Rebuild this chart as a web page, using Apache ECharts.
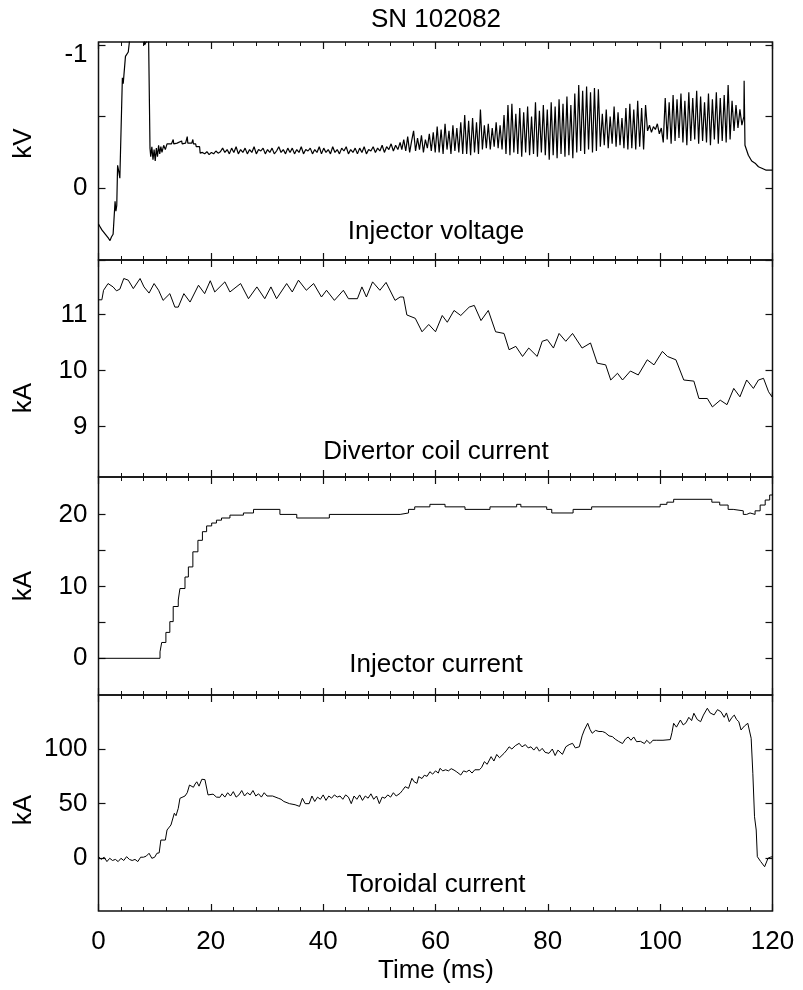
<!DOCTYPE html>
<html>
<head>
<meta charset="utf-8">
<script src="https://cdn.jsdelivr.net/npm/echarts@6/dist/echarts.min.js"></script>
<style>
html,body{margin:0;padding:0;background:#fff;}
#chart{width:803px;height:990px;}
</style>
</head>
<body>
<div id="chart"></div>
<script>
// ---------------- DATA ----------------
const chartTitle = 'SN 102082';
const xAxisTitle = 'Time (ms)';
const panelNames = ['Injector voltage', 'Divertor coil current', 'Injector current', 'Toroidal current'];
const panelUnits = ['kV', 'kA', 'kA', 'kA'];

const xTickLabels = [0, 20, 40, 60, 80, 100, 120];
const voltTickLabels = [-1, 0];
const voltTicks = [-1, -0.5, 0, 0.5];
const divTickLabels = [9, 10, 11];
const injTickLabels = [0, 10, 20];
const injTicks = [0, 5, 10, 15, 20];
const torTickLabels = [0, 50, 100];

// Injector voltage (kV), [time ms, value]
const voltEarly = [
  [0,0.25],[0.3,0.27],[0.6,0.29],[0.9,0.30],[1.2,0.32],[1.5,0.31],[1.8,0.35],[2.05,0.365],[2.3,0.34],[2.6,0.32],
  [2.8,0.33],[2.95,0.09],[3.1,0.16],[3.25,0.12],[3.4,-0.16],[3.6,-0.12],[3.8,-0.07],[4.1,-0.08],[4.25,-0.77],[4.4,-0.73],
  [4.8,-0.92],[5.3,-0.95],[5.5,-1.02],[5.6,-1.1],[8.1,-1.1],[8.2,-1.0],[8.5,-1.02],[8.9,-1.1],[9.1,-1.1],[9.17,-0.28],
  [9.3,-0.22],[9.5,-0.29],[9.7,-0.20],[9.9,-0.27],[10.1,-0.19],[10.3,-0.28],[10.5,-0.22],[10.7,-0.30],[10.9,-0.24],[11.1,-0.29],
  [11.3,-0.25],[11.6,-0.30],[11.9,-0.27],[12.2,-0.31],[12.5,-0.315],[13.0,-0.31],[13.3,-0.34],[13.4,-0.31],[14.0,-0.315],[14.8,-0.33],
  [14.9,-0.31],[15.5,-0.315],[15.8,-0.36],[15.9,-0.315],[16.6,-0.315],[16.8,-0.34],[16.9,-0.31],[17.3,-0.31],[17.4,-0.29],[18.0,-0.29]
];
// flat part, sampled every 0.4 ms from 18.1 ms
const voltFlatStart = 18.1, voltFlatStep = 0.4;
const voltFlat = [
  -0.245,-0.25,-0.24,-0.255,-0.235,-0.25,-0.24,-0.26,-0.245,-0.255,
  -0.28,-0.25,-0.27,-0.24,-0.28,-0.25,-0.29,-0.24,-0.27,-0.25,
  -0.28,-0.24,-0.27,-0.25,-0.29,-0.24,-0.27,-0.26,-0.28,-0.24,
  -0.27,-0.25,-0.28,-0.24,-0.26,-0.29,-0.25,-0.27,-0.24,-0.28,
  -0.25,-0.28,-0.24,-0.27,-0.25,-0.29,-0.24,-0.27,-0.26,-0.28,
  -0.24,-0.27,-0.25,-0.29,-0.24,-0.28,-0.25,-0.27,-0.24,-0.29,
  -0.25,-0.27,-0.24,-0.28,-0.26,-0.29,-0.24,-0.27,-0.25,-0.28,
  -0.24,-0.28,-0.25,-0.29,-0.24,-0.27,-0.26,-0.29,-0.25,-0.28,
  -0.26,-0.30,-0.25,-0.29,-0.27,-0.31,-0.26,-0.30,-0.27,-0.32
];
// oscillating part, sampled every 0.35 ms from 54 ms
const voltOscStart = 54, voltOscStep = 0.35;
const voltOsc = [
  -0.27,-0.34,-0.26,-0.36,-0.25,-0.33,-0.40,-0.26,-0.35,-0.27,-0.37,-0.25,-0.34,-0.28,-0.38,-0.26,-0.39,-0.25,
  -0.43,-0.25,-0.41,-0.24,-0.45,-0.27,-0.40,-0.24,-0.44,-0.26,-0.42,-0.25,-0.46,-0.24,
  -0.51,-0.24,-0.47,-0.23,-0.49,-0.25,-0.46,-0.24,-0.55,
  -0.27,-0.44,-0.28,-0.45,-0.27,-0.42,-0.29,-0.46,-0.28,-0.44,-0.27,
  -0.51,-0.24,-0.58,-0.23,-0.59,-0.25,-0.52,-0.24,-0.56,-0.22,-0.53,-0.25,-0.57,-0.23,-0.50,-0.24,-0.60,-0.22,-0.54,-0.25,-0.58,-0.23,-0.55,
  -0.20,-0.60,-0.23,-0.57,-0.21,-0.62,-0.24,-0.59,-0.22,-0.64,-0.23,-0.58,-0.21,-0.66,
  -0.25,-0.72,-0.26,-0.68,-0.24,-0.71,-0.27,-0.67,-0.25,-0.70,-0.26,-0.69,
  -0.29,-0.52,-0.30,-0.55,-0.28,-0.50,-0.31,-0.57,-0.29,-0.53,-0.30,-0.49,-0.28,-0.56,
  -0.27,-0.59,-0.28,-0.55,-0.27,-0.61,-0.29,-0.56,-0.27,-0.58,
  -0.40,-0.44,-0.39,-0.43,-0.41,-0.45,-0.38,-0.42,
  -0.32,-0.63,-0.34,-0.60,-0.31,-0.65,-0.33,-0.62,-0.35,-0.66,-0.32,-0.61,-0.30,-0.67,-0.33,-0.63,-0.34,-0.68,
  -0.31,-0.64,-0.33,-0.60,-0.32,-0.66,-0.30,-0.62,-0.34,-0.67,-0.31,-0.63,-0.33,-0.65,-0.32,-0.72,-0.34,-0.61,
  -0.40,-0.58,-0.42,-0.55,-0.44,-0.50
];
const voltTail = [
  [114.95,-0.75],[115.1,-0.30],[115.7,-0.23],[116.3,-0.19],[116.9,-0.175],[117.5,-0.15],[118.1,-0.14],[118.8,-0.127],[120,-0.127]
];

// Divertor coil current (kA)
const divertor = [
  [0,11.26],[0.6,11.26],[0.9,11.43],[1.7,11.55],[2.6,11.49],[3.2,11.42],[3.8,11.45],[4.5,11.64],[5.3,11.61],[6.2,11.46],
  [7.4,11.64],[8.1,11.49],[9.0,11.38],[9.9,11.55],[10.7,11.43],[11.5,11.25],[12.7,11.37],[13.6,11.13],[14.2,11.13],[15.2,11.37],
  [16.3,11.22],[17.8,11.52],[18.9,11.37],[19.9,11.60],[20.7,11.40],[22.5,11.58],[23.4,11.40],[25.3,11.55],[26.7,11.28],[28.2,11.49],
  [29.6,11.28],[30.7,11.49],[31.7,11.28],[33.5,11.55],[34.5,11.40],[35.6,11.61],[37.0,11.43],[38.3,11.55],[39.7,11.31],[40.6,11.43],
  [42.0,11.25],[43.6,11.43],[44.5,11.28],[46.1,11.28],[46.9,11.49],[47.7,11.31],[48.8,11.58],[50.1,11.43],[51.2,11.57],[52.8,11.25],
  [53.7,11.31],[54.3,11.31],[54.9,10.99],[56.4,10.93],[57.6,10.69],[58.8,10.82],[60.0,10.69],[61.2,10.98],[62.1,10.86],[63.3,11.07],
  [64.5,10.98],[66.0,11.13],[66.9,11.16],[68.1,10.89],[69.4,11.07],[70.7,10.69],[72.2,10.66],[73.1,10.37],[74.3,10.43],[75.5,10.25],
  [76.6,10.40],[78.1,10.25],[79.0,10.52],[79.9,10.55],[81.0,10.40],[82.0,10.66],[83.2,10.52],[84.4,10.66],[86.1,10.40],[87.6,10.49],
  [88.8,10.13],[90.3,10.10],[91.2,9.83],[92.4,9.95],[93.3,9.83],[94.7,9.99],[96.1,9.92],[97.7,10.19],[98.9,10.10],[100.4,10.34],
  [101.3,10.25],[102.8,10.19],[104.2,9.83],[106.0,9.81],[106.9,9.50],[108.4,9.50],[109.3,9.35],[110.7,9.47],[111.9,9.39],[113.1,9.68],
  [114.2,9.53],[115.4,9.83],[116.6,9.68],[117.5,9.83],[118.4,9.86],[119.3,9.62],[119.9,9.53],[120,9.62]
];

// Injector current (kA)
const injector = [
  [0,0],[10.06,0],[10.95,0.9],[11.25,2.2],[12.0,3.6],[12.7,5.1],[13.3,7.2],[14.2,8.1],[14.5,9.7],[15.4,11.3],
  [16.0,12.7],[16.8,14.8],[17.7,16.4],[18.5,17.6],[19.25,18.4],[20.15,18.8],[21.0,19.2],[21.9,19.5],[23.4,19.9],[25.8,20.2],
  [27.6,20.7],[32.3,20.0],[35.3,19.5],[41.1,20.0],[53.7,20.2],[55.2,20.7],[56.3,21.05],[59.0,21.4],[61.7,21.05],[65.25,20.7],
  [69.7,21.05],[74.45,21.4],[75.2,21.05],[79.8,20.7],[80.7,20.2],[84.5,20.7],[87.8,21.05],[100.0,21.4],[101.2,21.7],[102.4,22.1],
  [109.2,21.7],[110.6,21.3],[112.1,20.7],[113.0,20.5],[114.8,20.0],[115.4,20.2],[116.0,20.0],[116.9,20.5],[117.8,21.3],[118.7,22.0],
  [119.5,22.7],[120,22.9]
];

// Toroidal current (kA)
const toroidal = [
  [0,1.5],[0.5,-1],[1,1],[1.5,-3],[2,0],[2.5,-2],[3,-1],[3.5,-3],[4,0],[4.5,-2],[5,1.5],[5.5,-1],[6,-2],[6.5,-1],[7,-3],
  [7.5,1],[8,1],[8.5,2],[9,4.6],[9.5,0],[10.0,1],[10.4,4.6],[10.8,5],[11.1,16.7],[11.9,16.7],[12.2,25.9],[12.9,30.5],[13.5,41.2],
  [13.8,39],[14.2,45.7],[14.5,54.9],[15.4,57],[15.8,60],[16.2,67],[16.9,65],[17.2,68],[17.5,70],[17.9,66],[18.4,72.3],[18.95,72],
  [19.5,58],[20.4,58.7],[21.0,56],[21.6,55.8],[22,59],[22.5,56],[23,60],[23.5,57],[24,61],[24.5,56],[25,58],[25.5,62],[26,57],
  [26.5,60],[27,58],[27.5,62],[28,57],[28.5,59],[29,56],[29.5,60],[30,57],[31,57],[32,55],[32.5,54],[33,52],[34,50],[35,49],
  [35.8,47.5],[36.3,54.9],[36.8,50],[37.5,50],[38.0,57],[38.5,52],[39,56],[39.5,54],[40,58],[40.5,53],[41,57],[41.5,55],[42,58],
  [42.5,56],[43,57],[43.5,54],[44,58],[44.5,56],[45,50],[45.5,57],[46,54],[46.5,58],[47,53],[47.5,57],[48,55],[48.5,59],[49,54],
  [49.5,57],[50,50],[50.5,56],[51,55],[51.5,58],[52,56],[52.5,60],[53,57],[53.7,59.5],[54.1,62],[54.6,65.5],[55.2,64],[55.8,73.2],
  [56.2,70],[56.7,68.6],[57.0,74.7],[57.6,73],[58,76],[58.5,75],[59.0,79.2],[59.5,77],[60,80],[60.5,78],[60.8,82.3],[61.3,80],
  [61.8,81],[62.3,80],[62.8,82],[63.3,80.7],[63.8,79],[64.5,76.2],[65,80],[65.5,79],[66,80.7],[66.5,78],[67,81],[67.8,81],[68.2,83],
  [68.7,88.4],[69.2,86],[69.9,93],[70.4,89],[70.9,95],[71.4,92],[72.2,96],[72.7,99],[73.1,102],[73.6,100],[74.2,103],[74.9,105.2],
  [75.4,102],[76,104],[76.5,101],[77.0,102],[77.5,99],[78,102],[78.5,98],[79.0,100.6],[79.5,97],[80.2,96],[80.8,100],[81.3,94],
  [81.8,99],[82.6,95.1],[83.2,102],[83.8,104],[84.4,105.2],[84.9,101],[85.6,102],[86.1,112],[86.5,117.4],[87.1,123.5],[87.5,118],
  [87.9,114.4],[88.5,117],[89.1,116],[89.7,116],[90.2,115],[90.9,112],[91.5,111.3],[92,109],[92.6,107],[93.3,105],[93.8,109],
  [94.3,111],[94.8,108],[95.3,111],[95.8,106.7],[96.5,107],[97.2,105],[97.6,108],[98.2,105],[98.7,108],[99.4,108],[100.5,108],
  [101.8,108.6],[102.1,115],[102.4,123.5],[102.9,120],[103.6,126.5],[104.1,122],[104.6,124],[105.1,129],[105.6,126],[106.0,132.7],
  [106.6,127],[107.2,125],[107.7,131],[108.4,137.3],[108.9,133],[109.6,131.2],[110.2,136],[110.8,134.2],[111.4,129],[111.8,133],
  [112.3,125],[112.8,129],[113.2,131],[113.6,127],[114.0,125],[114.4,117.4],[115.0,121],[115.6,123.5],[115.9,122],[116.2,109.8],
  [116.5,77.8],[116.8,38],[117.1,25.9],[117.3,1.5],[117.9,-3],[118.6,-7.7],[119.2,0],[119.6,1],[120,1.5]
];

// ---------------- BUILD ----------------
const voltage = voltEarly
  .concat(voltFlat.map((v, i) => [+(voltFlatStart + i * voltFlatStep).toFixed(3), v]))
  .concat(voltOsc.map((v, i) => [+(voltOscStart + i * voltOscStep).toFixed(3), v]))
  .concat(voltTail);

const FONT = '"Liberation Sans", Arial, Helvetica, sans-serif';
const FS = 26;
const grids = [
  {top: 42, height: 218},
  {top: 260, height: 217},
  {top: 477, height: 218},
  {top: 695, height: 216}
];
const yCfg = [
  {min: -1.02, max: 0.5, inverse: true, ticks: voltTicks, labels: voltTickLabels},
  {min: 8.1, max: 11.97, inverse: false, ticks: divTickLabels, labels: divTickLabels},
  {min: -5.1, max: 25.2, inverse: false, ticks: injTicks, labels: injTickLabels},
  {min: -48.2, max: 149.4, inverse: false, ticks: torTickLabels, labels: torTickLabels}
];
const seriesData = [voltage, divertor, injector, toroidal];

const grid = grids.map(g => ({
  left: 98.5, right: 30.5, top: g.top, height: g.height,
  show: true, borderColor: '#111', borderWidth: 1.5, backgroundColor: 'transparent'
}));

const xAxis = [];
const yAxis = [];
grids.forEach((g, gi) => {
  ['bottom', 'top'].forEach(pos => {
    xAxis.push({
      type: 'value', gridIndex: gi, position: pos,
      min: xTickLabels[0], max: xTickLabels[xTickLabels.length - 1], interval: 20,
      axisLine: {show: false, onZero: false},
      splitLine: {show: false},
      axisTick: {show: true, inside: true, length: 7, lineStyle: {color: '#111', width: 1.2}},
      minorTick: {show: true, splitNumber: 5, length: 4, lineStyle: {color: '#111', width: 1}},
      axisLabel: {
        show: gi === 3 && pos === 'bottom', margin: 18,
        fontFamily: FONT, fontSize: FS, color: '#000'
      }
    });
  });
  const c = yCfg[gi];
  ['left', 'right'].forEach(pos => {
    yAxis.push({
      type: 'value', gridIndex: gi, position: pos,
      min: c.min, max: c.max, inverse: c.inverse,
      axisLine: {show: false, onZero: false},
      splitLine: {show: false},
      axisTick: {show: true, inside: true, length: 7, customValues: c.ticks, lineStyle: {color: '#111', width: 1.2}},
      axisLabel: {
        show: pos === 'left', margin: 11, customValues: c.labels,
        fontFamily: FONT, fontSize: FS, color: '#000',
        formatter: (v) => (gi === 0 && v === -1) ? '{s|-1}' : String(v),
        rich: {s: {fontFamily: FONT, fontSize: FS, color: '#000', padding: [20, 0, 0, 0]}}
      }
    });
  });
});

const series = seriesData.map((d, gi) => ({
  type: 'line', xAxisIndex: gi * 2, yAxisIndex: gi * 2,
  data: d, showSymbol: false, symbol: 'none', clip: true,
  step: gi === 2 ? 'end' : false,
  lineStyle: {color: '#000', width: gi === 0 ? 1.2 : 1},
  emphasis: {disabled: true}
}));

const textStyle = {font: FS + 'px ' + FONT, fill: '#000', textAlign: 'center', textVerticalAlign: 'middle'};
const labelY = [232, 452, 665, 885];
const unitY = [143.5, 398, 586, 810];
const graphic = [
  {type: 'text', x: 436, y: 20, style: Object.assign({text: chartTitle}, textStyle)},
  {type: 'text', x: 436, y: 971, style: Object.assign({text: xAxisTitle}, textStyle)}
];
panelNames.forEach((n, i) => {
  graphic.push({type: 'text', x: 436, y: labelY[i], style: Object.assign({text: n}, textStyle)});
  graphic.push({type: 'text', x: 24, y: unitY[i], rotation: Math.PI / 2, style: Object.assign({text: panelUnits[i]}, textStyle)});
});

const chart = echarts.init(document.getElementById('chart'), null, {renderer: 'canvas'});
chart.setOption({
  animation: false,
  backgroundColor: '#fff',
  grid, xAxis, yAxis, series, graphic
});
</script>
</body>
</html>
